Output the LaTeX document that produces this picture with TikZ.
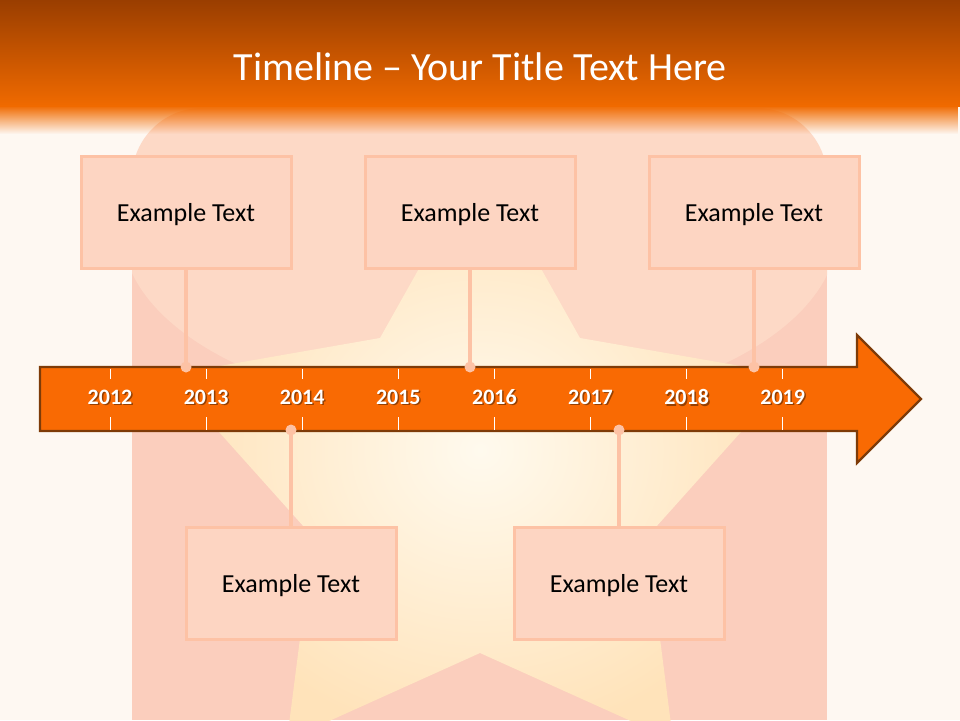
\documentclass[tikz,border=0pt]{standalone}
\usepackage{fontspec}
\setmainfont{Carlito}
\usetikzlibrary{fadings}
\definecolor{bgcream}{HTML}{FEF8F2}
\definecolor{pinkrect}{HTML}{FBCEBD}
\definecolor{archc}{HTML}{FDD9C6}
\definecolor{hdtop}{HTML}{9A3E00}
\definecolor{hdbot}{HTML}{F06A00}
\definecolor{starin}{HTML}{FFFAEE}
\definecolor{starout}{HTML}{FFE3BA}
\definecolor{boxfill}{HTML}{FDD5C2}
\definecolor{boxline}{HTML}{FDC2A5}
\definecolor{arrowfill}{HTML}{F96A03}
\definecolor{arrowline}{HTML}{7E3B08}
\tikzfading[name=fadedown, top color=transparent!0, bottom color=transparent!100]
\pgfdeclarelayer{backdrop}
\pgfdeclarelayer{front}
\pgfsetlayers{backdrop,main,front}
\begin{document}
\begin{tikzpicture}[x=1pt,y=-1pt,
  exbox/.style={draw=boxline, line width=3pt, fill=boxfill, minimum width=210pt,
    minimum height=112pt, inner sep=0pt, text depth=0pt, font=\fontsize{26}{30}\selectfont, text=black},
  yearlbl/.style={font=\bfseries\fontsize{22}{26}\selectfont, text=white, inner sep=0pt},
  yearshadow/.style={yearlbl, text=black, opacity=0.4},
  conn/.style={draw=boxline, line width=4pt},
  tickline/.style={draw=white, line width=0.8pt},
  titlelbl/.style={text=white, font=\fontsize{40}{48}\selectfont, inner sep=0pt}]
\useasboundingbox (0,0) rectangle (960,720);
\begin{pgfonlayer}{backdrop}
% background
\fill[bgcream] (0,0) rectangle (960,720);
\fill[pinkrect] (132,255) rectangle (827,720);
% arch
\begin{scope}
  \clip (132,108) rectangle (827,720);
  \fill[archc] (480,230) ellipse [x radius=358, y radius=183];
  \fill[archc, rounded corners=70pt] (132,108) rectangle (827,260);
\end{scope}
% star
\shade[inner color=starin, outer color=starout]
  (480,160) -- (580,338) -- (792,375) -- (647,537) -- (673,740) -- (480,653)
  -- (287,740) -- (313,537) -- (168,375) -- (380,338) -- cycle;
% header
\shade[top color=hdtop, bottom color=hdbot] (0,0) rectangle (960,106);
\fill[hdbot, path fading=fadedown] (0,105.5) rectangle (960,134);
\node[titlelbl] (title) at (480,67) {Timeline -- Your Title Text Here};
% timeline arrow
\draw[fill=arrowfill, draw=arrowline, line width=2.2pt, line join=miter]
  (40,367) -- (857,367) -- (857,335) -- (921,399) -- (857,463) -- (857,431) -- (40,431) -- cycle;
\foreach \k/\yr in {0/2012,1/2013,2/2014,3/2015,4/2016,5/2017,6/2018,7/2019}{
  \pgfmathsetmacro{\xx}{110+96.1*\k}
  \draw[tickline] (\xx,368.5) -- (\xx,379);
  \draw[tickline] (\xx,417) -- (\xx,429.5);
  \node[yearshadow] at (\xx+1.5,398.5) {\yr};
  \node[yearlbl] (y\yr) at (\xx,397) {\yr};
}
\end{pgfonlayer}
% boxes
\begin{pgfonlayer}{front}
\node[exbox] (b1) at (186,212) {Example Text};
\node[exbox] (b2) at (470,212) {Example Text};
\node[exbox] (b3) at (754,212) {Example Text};
\node[exbox] (b4) at (291,583) {Example Text};
\node[exbox] (b5) at (619,583) {Example Text};
\end{pgfonlayer}
% connectors
\coordinate (d1) at (186,367);
\coordinate (d2) at (470,367);
\coordinate (d3) at (754,367);
\coordinate (d4) at (291,430);
\coordinate (d5) at (619,430);
\foreach \i in {1,...,5}{
  \draw[conn] (b\i) -- (d\i);
  \fill[boxline] (d\i) circle (5.5pt);
}
\end{tikzpicture}
\end{document}
